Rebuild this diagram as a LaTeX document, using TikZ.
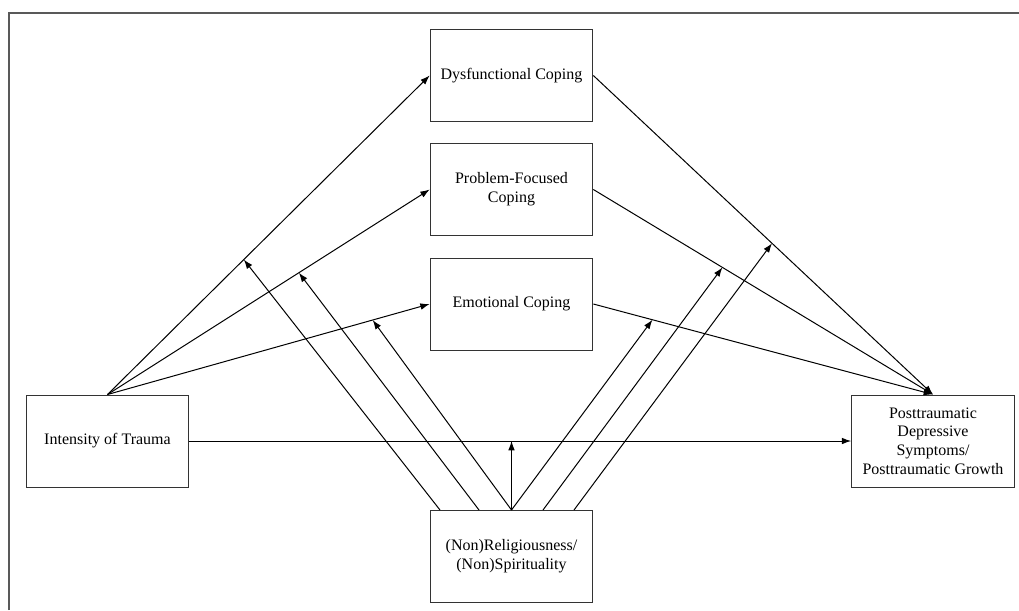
\documentclass[tikz,border=0pt]{standalone}
\usepackage{fontspec}
\setmainfont{Liberation Serif}
\usetikzlibrary{arrows.meta,calc}

\begin{document}
\begin{tikzpicture}[x=0.75pt,y=-0.75pt,
box/.style={draw=black!80,line width=0.75pt,minimum width=122pt,minimum height=69pt,
align=center,inner sep=2pt,font=\fontsize{12}{14}\selectfont},
link/.style={-{Latex[length=7pt,width=5pt]},line width=0.75pt},
frame/.style={draw=black!65,line width=1pt}]
\useasboundingbox (0,0) rectangle (1019,610);
\draw[frame] (9,610) -- (9,13) -- (1019,13);
% boxes
\node[box] (dys) at (511.5,75.5) {Dysfunctional Coping};
\node[box] (prob) at (511.5,189.5) {Problem-Focused\\Coping};
\node[box] (emo) at (511.5,304) {Emotional Coping};
\node[box] (trauma) at (107.5,441) {Intensity of Trauma};
\node[box] (ptsd) at (933,441) {Posttraumatic\\Depressive\\Symptoms/\\Posttraumatic Growth};
\node[box] (relig) at (511.5,556.5) {(Non)Religiousness/\\(Non)Spirituality};
% paths
\draw[link] (trauma.north) -- coordinate[pos=0.423] (ld) (dys.west);
\draw[link] (trauma.north) -- coordinate[pos=0.594] (lp) (prob.west);
\draw[link] (trauma.north) -- coordinate[pos=0.823] (le) (emo.west);
\draw[link] (dys.east) -- coordinate[pos=0.526] (rd) (ptsd.north);
\draw[link] (prob.east) -- coordinate[pos=0.38] (rp) (ptsd.north);
\draw[link] (emo.east) -- coordinate[pos=0.174] (re) (ptsd.north);
\draw[link] (trauma.east) -- (ptsd.west);
% moderation
\draw[link] ($(relig.north)+(-71.5,0)$) -- (ld);
\draw[link] ($(relig.north)+(-32.5,0)$) -- (lp);
\draw[link] (relig.north) -- (le);
\draw[link] (relig.north) -- (relig.north |- trauma.east);
\draw[link] (relig.north) -- (re);
\draw[link] ($(relig.north)+(31.5,0)$) -- (rp);
\draw[link] ($(relig.north)+(62.5,0)$) -- (rd);
\end{tikzpicture}
\end{document}
